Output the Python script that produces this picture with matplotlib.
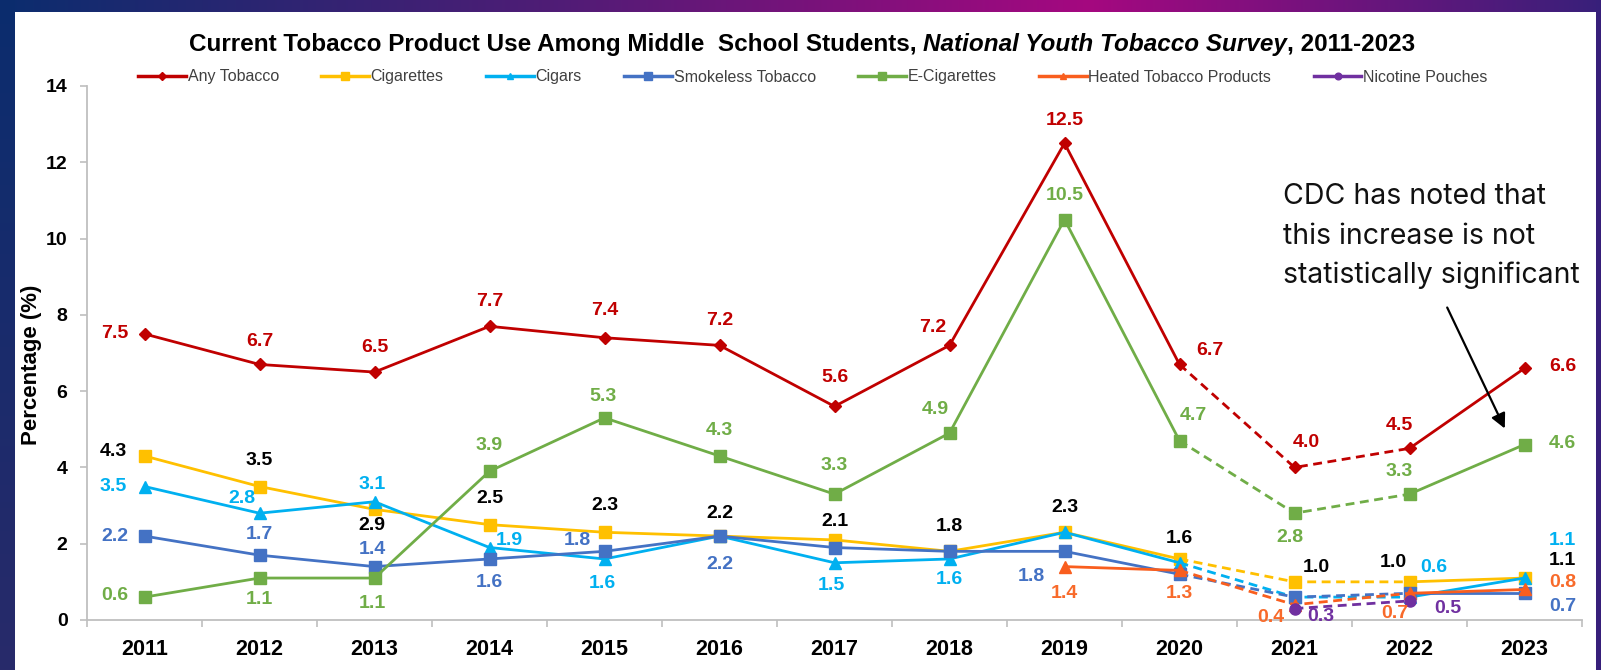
import numpy as np
import matplotlib
matplotlib.use("Agg")
import matplotlib.pyplot as plt
from matplotlib.lines import Line2D

# ---------------- data ----------------
years = ["2011", "2012", "2013", "2014", "2015", "2016", "2017",
         "2018", "2019", "2020", "2021", "2022", "2023"]
nan = np.nan
any_tobacco = [7.5, 6.7, 6.5, 7.7, 7.4, 7.2, 5.6, 7.2, 12.5, 6.7, 4.0, 4.5, 6.6]
cigarettes = [4.3, 3.5, 2.9, 2.5, 2.3, 2.2, 2.1, 1.8, 2.3, 1.6, 1.0, 1.0, 1.1]
cigars = [3.5, 2.8, 3.1, 1.9, 1.6, 2.2, 1.5, 1.6, 2.3, 1.5, 0.6, 0.6, 1.1]
smokeless = [2.2, 1.7, 1.4, 1.6, 1.8, 2.2, 1.9, 1.8, 1.8, 1.2, 0.6, 0.7, 0.7]
e_cigarettes = [0.6, 1.1, 1.1, 3.9, 5.3, 4.3, 3.3, 4.9, 10.5, 4.7, 2.8, 3.3, 4.6]
heated = [nan, nan, nan, nan, nan, nan, nan, nan, 1.4, 1.3, 0.4, 0.7, 0.8]
nicotine_pouches = [nan, nan, nan, nan, nan, nan, nan, nan, nan, nan, 0.3, 0.5, nan]

series_names = ["Any Tobacco", "Cigarettes", "Cigars", "Smokeless Tobacco",
                "E-Cigarettes", "Heated Tobacco Products", "Nicotine Pouches"]
series_values = [any_tobacco, cigarettes, cigars, smokeless, e_cigarettes,
                 heated, nicotine_pouches]

# ---------------- styles ----------------
line_colors = ["#C00000", "#FFC000", "#00B0F0", "#4472C4", "#70AD47", "#F95E1E", "#7030A0"]
label_colors = ["#C00000", "#000000", "#00B0F0", "#4472C4", "#70AD47", "#F86A2A", "#7030A0"]
markers = ["D", "s", "^", "s", "s", "^", "o"]
msizes = [6.5, 8.5, 8, 8.5, 9, 8, 8]

# label offsets in pixels (dx, dy); None = no label
label_offsets = [
    [(-30, 0), (0, 23), (0, 25), (0, 25), (0, 27), (0, 25), (0, 29), (-17, 18),
     (0, 23), (30, 14), (12, 25), (-10, 23), (38, 2)],
    [(-31, 4), (0, 26), (-3, -16), (0, 26), (0, 27), (0, 23), (0, 18), (0, 25),
     (0, 25), (0, 20), (22, 14), (-16, 19), (38, 18)],
    [(-31, 0), (-18, 15), (-2, 17), (20, 7), (-2, -25), None, (-3, -23), (0, -21),
     None, None, None, (24, 30), (38, 38)],
    [(-30, 0), (0, 21), (-2, 17), (0, -24), (-27, 11), (0, -28), None, None,
     (-33, -25), None, None, None, (38, -13)],
    [(-30, 2), (0, -21), (-2, -25), (0, 26), (-2, 21), (0, 25), (0, 29), (-14, 24),
     (0, 24), (14, 25), (-5, -24), (-10, 23), (38, 1)],
    [None] * 8 + [(0, -27), (0, -23), (-24, -13), (-15, -20), (38, 7)],
    [None] * 10 + [(26, -8), (38, -8), None],
]

W, H = 1601, 670
fig = plt.figure(figsize=(W / 100, H / 100), dpi=100)
fig.patch.set_facecolor("white")

# ---------------- decorative slide frame ----------------
bg = np.ones((H, W, 3))
top_h, left_w, right_w = 12, 15, 6
t = np.linspace(0, 1, W)
navy = np.array([0x0B, 0x2D, 0x6E]) / 255
magenta = np.array([0xA5, 0x08, 0x80]) / 255
purple = np.array([0x38, 0x20, 0x7A]) / 255
band = np.empty((W, 3))
for c in range(3):
    band[:, c] = np.interp(t, [0, 0.35, 0.68, 1.0],
                           [navy[c], 0.55 * navy[c] + 0.45 * magenta[c], magenta[c], purple[c]])
bg[:top_h, :, :] = band[None, :, :]
v = np.linspace(0, 1, H)
leftcol = np.empty((H, 3))
bottom_left = np.array([0x28, 0x2A, 0x6A]) / 255
for c in range(3):
    leftcol[:, c] = np.interp(v, [0, 1], [navy[c], bottom_left[c]])
bg[:, :left_w, :] = leftcol[:, None, :]
bg[:, W - right_w:, :] = purple
bax = fig.add_axes([0, 0, 1, 1], zorder=-5)
bax.imshow(bg, aspect="auto", extent=(0, 1, 0, 1), interpolation="bilinear")
bax.axis("off")

# ---------------- main axes ----------------
ax_l, ax_r = 87, 1582
ax_top, ax_bot = 86, 620
ax = fig.add_axes([ax_l / W, 1 - ax_bot / H, (ax_r - ax_l) / W, (ax_bot - ax_top) / H])
ax.set_facecolor("none")
x = np.arange(len(years))

segments = [(0, 10, "-"), (9, 12, (0, (3.2, 2.0))), (11, 13, "-")]
for i, (name, vals) in enumerate(zip(series_names, series_values)):
    arr = np.array(vals, dtype=float)
    for a, b, ls in segments:
        ax.plot(x[a:b], arr[a:b], color=line_colors[i], lw=2.0, ls=ls,
                solid_capstyle="round", zorder=2 + i)
    ax.plot(x, arr, ls="none", marker=markers[i], ms=msizes[i],
            color=line_colors[i], mec=line_colors[i], zorder=2.5 + i, label=name)

for i, vals in enumerate(series_values):
    for j, v in enumerate(vals):
        off = label_offsets[i][j]
        if off is None or np.isnan(v):
            continue
        ax.annotate(f"{v:.1f}", (x[j], v), xytext=off, textcoords="offset pixels",
                    ha="center", va="center", fontsize=14, fontweight="bold",
                    color=label_colors[i], family="Liberation Sans", zorder=20)

ax.set_xlim(-0.5, len(years) - 0.5)
ax.set_ylim(0, 14)
ax.set_yticks(np.arange(0, 15, 2))
ax.set_xticks(x)
ax.set_xticklabels(years)
ax.set_xticks(np.arange(-0.5, len(years), 1.0), minor=True)
for s in ["top", "right"]:
    ax.spines[s].set_visible(False)
for s in ["left", "bottom"]:
    ax.spines[s].set_color("#BFBFBF")
    ax.spines[s].set_linewidth(1.3)
ax.tick_params(axis="x", which="major", length=0, pad=14)
ax.tick_params(axis="x", which="minor", length=5, color="#BFBFBF", width=1.2)
ax.tick_params(axis="y", which="major", length=5, color="#BFBFBF", width=1.2, pad=9)
for lab in ax.get_xticklabels():
    lab.set_fontweight("bold")
    lab.set_fontsize(15.5)
    lab.set_family("Liberation Sans")
for lab in ax.get_yticklabels():
    lab.set_fontweight("bold")
    lab.set_fontsize(14)
    lab.set_family("Liberation Sans")
ax.set_ylabel("Percentage (%)", fontsize=16, fontweight="bold", family="Liberation Sans")
ax.yaxis.label.set_va("center")
ax.yaxis.set_label_coords(-0.037, 0.478)

# legend
leg_handles = []
for i, name in enumerate(series_names):
    leg_handles.append(Line2D([0], [0], color=line_colors[i], lw=2.5, marker=markers[i],
                              ms=msizes[i] * 0.6, mec=line_colors[i]))
leg = fig.legend(leg_handles, series_names, ncol=7, loc="center left",
                 bbox_to_anchor=(138 / W, 1 - 77 / H), frameon=False,
                 prop={"family": "Liberation Sans", "size": 11.5},
                 handlelength=3.0, handletextpad=0.1, columnspacing=2.65,
                 borderaxespad=0, borderpad=0)
for txt in leg.get_texts():
    txt.set_color("#404040")

# title with italic part
renderer = fig.canvas.get_renderer()
parts = [("Current Tobacco Product Use Among Middle  School Students, ", "normal"),
         ("National Youth Tobacco Survey", "italic"),
         (", 2011-2023", "normal")]
texts = []
for s, style in parts:
    tt = fig.text(0, 1 - 44 / H, s, fontsize=17.5, fontweight="bold", style=style,
                  family="Liberation Sans", va="center", ha="left")
    texts.append((tt, tt.get_window_extent(renderer).width))
total = sum(wd for _, wd in texts)
cur = 802 - total / 2
for tt, wd in texts:
    tt.set_x(cur / W)
    cur += wd

# annotation
note_lines = ["CDC has noted that", "this increase is not", "statistically significant"]
for k, line in enumerate(note_lines):
    fig.text(1283 / W, 1 - (197 + 39 * k) / H, line, fontsize=20.5, family="Inter",
             va="center", ha="left", color="#111111")
ax.annotate("", xy=(1506, H - 431), xycoords="figure pixels",
            xytext=(1446, H - 305), textcoords="figure pixels",
            arrowprops=dict(arrowstyle="-|>", color="black", lw=1.6, mutation_scale=22))

fig.savefig("out.png", dpi=100)
